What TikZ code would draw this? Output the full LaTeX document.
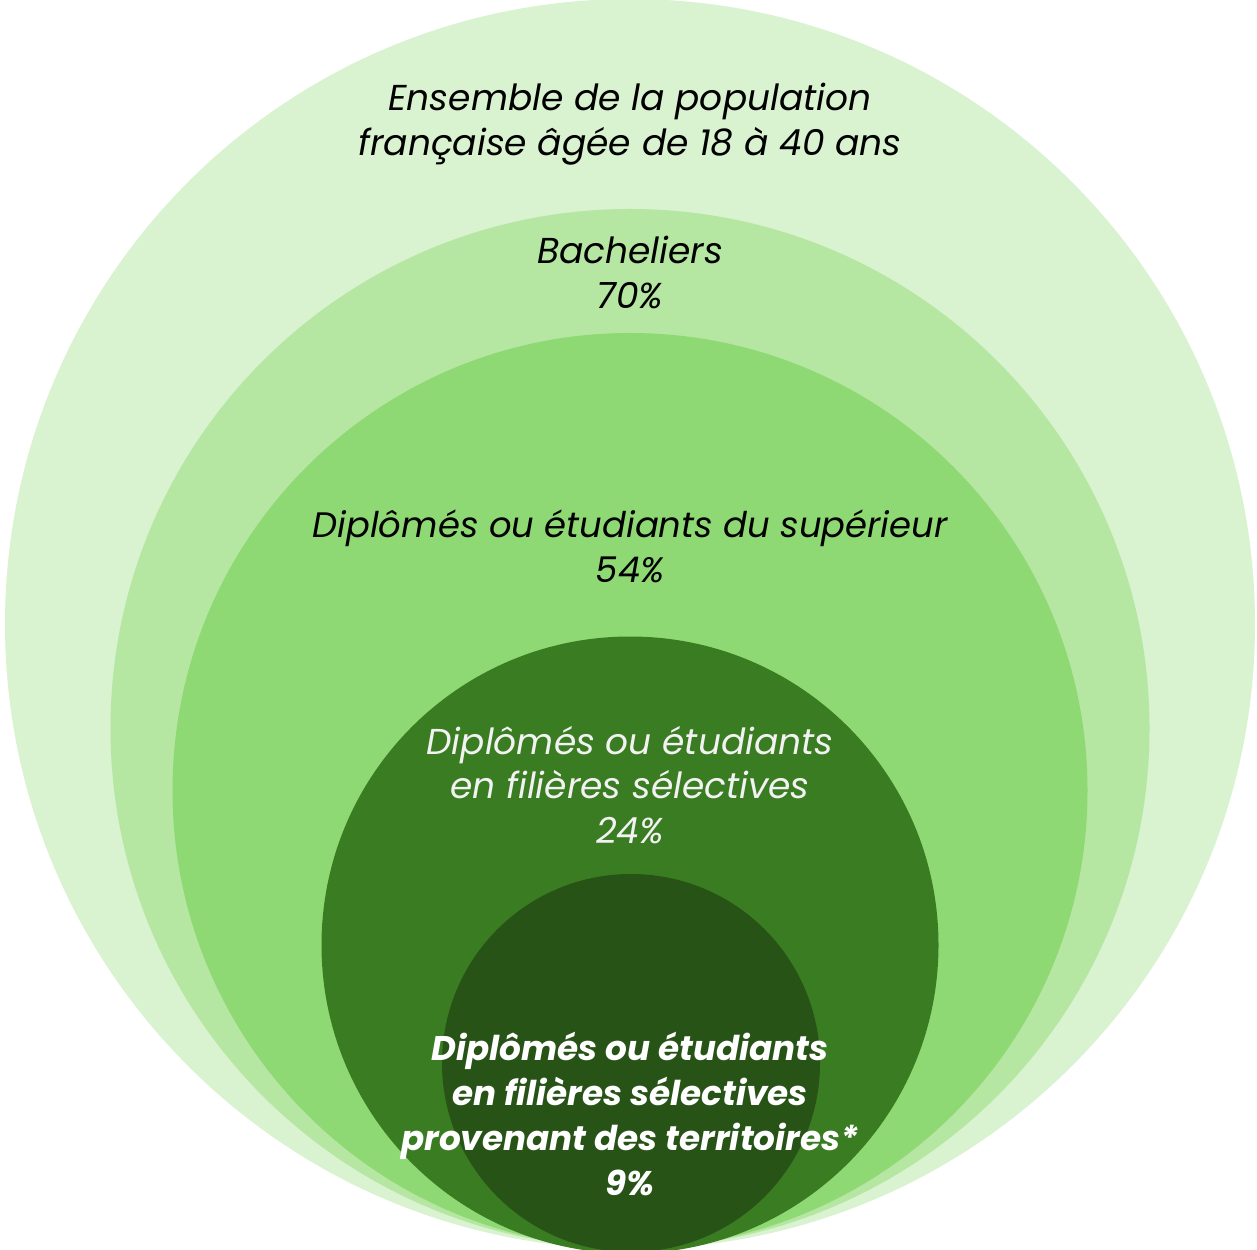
\documentclass[tikz,border=0pt]{standalone}
\usepackage{fontspec}
\setmainfont{Poppins}
\usepackage{xcolor}
\usepackage{tikz}
\definecolor{ring1}{HTML}{D9F2D0}
\definecolor{ring2}{HTML}{B5E6A2}
\definecolor{ring3}{HTML}{8ED973}
\definecolor{ring4}{HTML}{3A7C22}
\definecolor{ring5}{HTML}{275317}
\definecolor{ink}{HTML}{000000}
\definecolor{paleink}{HTML}{F2F2F2}
\tikzset{
  ring/.style={draw=none},
  lab/.style={align=center, text=ink, font=\fontsize{18}{22.35}\selectfont\itshape},
  pale/.style={lab, text=paleink},
  strong/.style={lab, text=white, font=\fontsize{17.1}{22.35}\selectfont\bfseries\itshape}
}
\begin{document}
\begin{tikzpicture}[x=0.5pt,y=0.5pt]
  % 1 unit = 1 px of the 1257 x 1249 frame
  \useasboundingbox (0,0) rectangle (1257,1249);
  \coordinate (C1) at (630,625);   % whole population
  \coordinate (C2) at (630,520.5); % bacheliers
  \coordinate (C3) at (630,458.5); % superieur
  \coordinate (C4) at (630,304);   % filieres selectives
  \coordinate (C5) at (631,186);   % territoires

  % nested discs
  \fill[ring, ring1] (C1) circle[radius=625];
  \fill[ring, ring2] (C2) circle[radius=519.5];
  \fill[ring, ring3] (C3) circle[radius=457.5];
  \fill[ring, ring4] (C4) circle[radius=308.5];
  \fill[ring, ring5] (C5) circle[radius=189];

  % labels
  \node[lab] (pop) at (630,1125) {Ensemble de la population\\française âgée de 18 à 40 ans};
  \node[lab] (bac) at (630,976.5) {Bacheliers\\70\%};
  \node[lab, font=\fontsize{17.7}{22.35}\selectfont\itshape] (sup) at (630,702.5) {Diplômés ou étudiants du supérieur\\54\%};
  \node[pale] (sel) at (630,464) {Diplômés ou étudiants\\en filières sélectives\\24\%};
  \node[strong] (terr) at (630,135) {Diplômés ou étudiants\\en filières sélectives\\provenant des territoires*\\9\%};
\end{tikzpicture}
\end{document}
